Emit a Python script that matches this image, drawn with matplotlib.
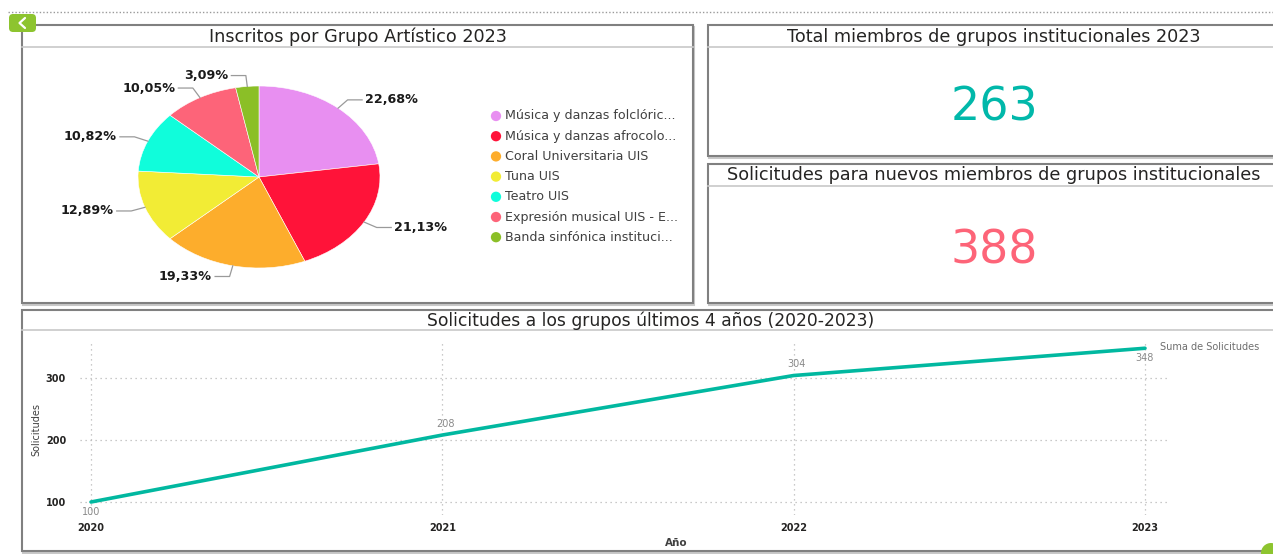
import numpy as np
import matplotlib
matplotlib.use('Agg')
import matplotlib.pyplot as plt
from matplotlib.patches import Rectangle, FancyBboxPatch, Circle

# ---- data ----
pie_groups = [
    'Música y danzas folclóric...',
    'Música y danzas afrocolo...',
    'Coral Universitaria UIS',
    'Tuna UIS',
    'Teatro UIS',
    'Expresión musical UIS - E...',
    'Banda sinfónica instituci...',
]
pie_shares = [22.68, 21.13, 19.33, 12.89, 10.82, 10.05, 3.09]
pie_colors = ['#E88FF1', '#FF1339', '#FDAD2C', '#F2EC35',
              '#10FDDB', '#FD6479', '#8BBF27']

total_members = 263
new_requests = 388

years = [2020, 2021, 2022, 2023]
requests = [100, 208, 304, 348]
request_label_side = ['below', 'above', 'above', 'below']

W, H = 1273, 554
fig = plt.figure(figsize=(W / 100, H / 100), dpi=100)
fig.patch.set_facecolor('white')

# overlay in pixel coordinates for frames and free text
over = fig.add_axes([0, 0, 1, 1])
over.set_xlim(0, W)
over.set_ylim(H, 0)
over.axis('off')
over.set_zorder(-1)

TITLE_C = '#252423'
FRAME_C = '#808080'


def panel(x0, y0, x1, y1, title, ysep, title_x=None, size=12.7):
    over.add_patch(Rectangle((x0 + 1, y0 + 2), x1 - x0, y1 - y0,
                             fill=False, ec='#c8c8c8', lw=1.5))
    over.add_patch(Rectangle((x0, y0), x1 - x0, y1 - y0,
                             fill=True, fc='white', ec=FRAME_C, lw=1.5))
    over.plot([x0, x1], [ysep, ysep], color='#c8c8c8', lw=1.2)
    tx = title_x if title_x is not None else (x0 + x1) / 2
    over.text(tx, (y0 + ysep) / 2 + 0.5, title, ha='center', va='center',
              fontsize=size, color=TITLE_C)


# top dotted rule and back button
over.plot([8, W], [12, 12], color='#9a9a9a', lw=1.0, ls=(0, (1, 1.5)))
panel(22, 25, 693, 303, 'Inscritos por Grupo Artístico 2023', 47, 358)
panel(708, 25, W + 5, 156, 'Total miembros de grupos institucionales 2023', 47, 994)
panel(708, 164, W + 5, 303,
      'Solicitudes para nuevos miembros de grupos institucionales', 186, 994)
panel(22, 310, W + 5, 551, 'Solicitudes a los grupos últimos 4 años (2020-2023)',
      330, 651, size=12.3)
over.add_patch(FancyBboxPatch((9, 14), 27, 18, boxstyle='round,pad=0,rounding_size=4',
                              fc='#8DC42F', ec='none'))
over.plot([25, 19.5, 25], [18, 23, 28], color='white', lw=1.6, solid_capstyle='round')
over.add_patch(Circle((1271, 553), 10, fc='#8DC42F', ec='none'))

# KPI cards
over.text(994, 108, f'{total_members}', ha='center', va='center',
          fontsize=33, color='#01B8AA')
over.text(994, 251, f'{new_requests}', ha='center', va='center',
          fontsize=33, color='#FD6478')

# ---- pie (screen is stretched horizontally, so the pie is an ellipse) ----
cx, cy, rx, ry = 259, 177, 121, 91
pie_ax = fig.add_axes([(cx - 1.5 * rx) / W, 1 - (cy + 1.5 * ry) / H,
                       3 * rx / W, 3 * ry / H])
wedges, _ = pie_ax.pie(pie_shares, colors=pie_colors, startangle=90,
                       counterclock=False, radius=1,
                       wedgeprops=dict(linewidth=0.4, edgecolor='white'))
pie_ax.set_aspect('auto')
pie_ax.set_xlim(-1.5, 1.5)
pie_ax.set_ylim(-1.5, 1.5)
pie_ax.axis('off')

for w, share in zip(wedges, pie_shares):
    theta = np.deg2rad((w.theta1 + w.theta2) / 2)
    c, s = np.cos(theta), np.sin(theta)
    side = 1 if c >= 0 else -1
    ex, ey = 1.12 * c, 1.12 * s
    pie_ax.plot([1.0 * c, ex, ex + side * 0.12], [1.0 * s, ey, ey],
                color='#9a9a9a', lw=0.9, clip_on=False)
    pie_ax.text(ex + side * 0.145, ey, f'{share:.2f}%'.replace('.', ','),
                ha='left' if side > 0 else 'right', va='center',
                fontsize=9.2, fontweight='bold', color='#1a1a1a')

for i, (name, col) in enumerate(zip(pie_groups, pie_colors)):
    yy = 116 + i * 20.2
    over.scatter([496], [yy], s=55, color=col, edgecolor='none', zorder=3)
    over.text(505, yy, name, ha='left', va='center', fontsize=9.1, color='#404040')

# ---- line chart ----
px_per_year = (1145 - 91) / 3
px_per_unit = (502 - 378) / 200
lx0, lx1, ly0, ly1 = 80, 1170, 340, 515
line_ax = fig.add_axes([lx0 / W, 1 - ly1 / H, (lx1 - lx0) / W, (ly1 - ly0) / H])
line_ax.set_xlim(2020 - (91 - lx0) / px_per_year, 2023 + (lx1 - 1145) / px_per_year)
line_ax.set_ylim(100 - (ly1 - 502) / px_per_unit, 300 + (378 - ly0) / px_per_unit)
line_ax.set_facecolor('none')
for sp in line_ax.spines.values():
    sp.set_visible(False)
line_ax.set_xticks(years)
line_ax.set_yticks([100, 200, 300])
line_ax.tick_params(length=0, labelsize=7, colors='#252423')
line_ax.tick_params(axis='x', pad=6)
line_ax.tick_params(axis='y', pad=10)
for lab in line_ax.get_xticklabels() + line_ax.get_yticklabels():
    lab.set_fontweight('bold')
line_ax.grid(True, color='#b8b8b8', ls=(0, (1, 3)), lw=0.9)
line_ax.plot(years, requests, color='#01B8A0', lw=2.6, solid_capstyle='round', zorder=3)

for x, y, side in zip(years, requests, request_label_side):
    dy = 8 if side == 'above' else -7
    line_ax.annotate(f'{y}', (x, y), xytext=(2 if side == 'above' else 0, dy),
                     textcoords='offset points', ha='center', va='center',
                     fontsize=7, color='#8a8a8a')
line_ax.annotate('Suma de Solicitudes', (years[-1], requests[-1]), xytext=(11, 1),
                 textcoords='offset points', ha='left', va='center',
                 fontsize=7, color='#6e6e6e')

over.text(36, 430, 'Solicitudes', rotation=90, ha='center', va='center',
          fontsize=7, color='#404040')
over.text(676, 543, 'Año', ha='center', va='center', fontsize=7.5,
          fontweight='bold', color='#404040')

fig.savefig('out.png', dpi=100)
